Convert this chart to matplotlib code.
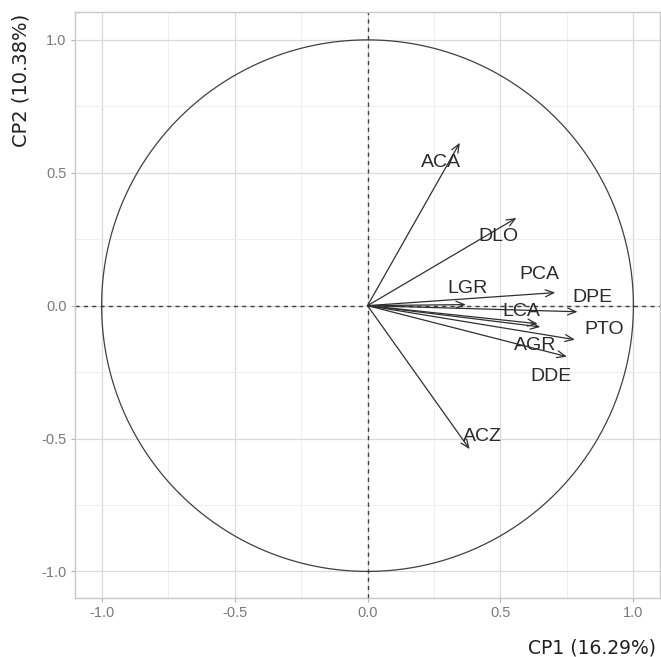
import numpy as np
import matplotlib.pyplot as plt

variables = ['ACA', 'DLO', 'PCA', 'LGR', 'DPE', 'LCA', 'AGR', 'PTO', 'DDE', 'ACZ']
cp1 = [0.347, 0.56, 0.706, 0.37, 0.79, 0.64, 0.65, 0.78, 0.75, 0.384]
cp2 = [0.613, 0.33, 0.049, 0.004, -0.023, -0.068, -0.08, -0.128, -0.192, -0.54]
# label positions (repelled text)
lab_x = [0.275, 0.493, 0.648, 0.377, 0.847, 0.58, 0.629, 0.889, 0.689, 0.433]
lab_y = [0.538, 0.26, 0.117, 0.064, 0.03, -0.023, -0.15, -0.09, -0.267, -0.492]

plt.rcParams['font.family'] = ['Liberation Sans', 'DejaVu Sans']
plt.rcParams['axes.unicode_minus'] = False

fig = plt.figure(figsize=(6.61, 6.57), dpi=100)
ax = fig.add_axes([0.1135, 0.0898, 0.885, 0.892])

ax.set_xlim(-1.1, 1.1)
ax.set_ylim(-1.1, 1.105)

# grid
ax.set_xticks([-1, -0.5, 0, 0.5, 1])
ax.set_yticks([-1, -0.5, 0, 0.5, 1])
ax.set_xticks([-0.75, -0.25, 0.25, 0.75], minor=True)
ax.set_yticks([-0.75, -0.25, 0.25, 0.75], minor=True)
ax.grid(which='major', color='#dadada', linewidth=0.9)
ax.grid(which='minor', color='#ebebeb', linewidth=0.6)
ax.set_axisbelow(True)
ax.tick_params(which='minor', length=0)
ax.tick_params(which='major', length=3, color='#b3b3b3', labelsize=10.5,
               labelcolor='#7a7a7a', pad=3)
for s in ax.spines.values():
    s.set_color('#c8c8c8')
    s.set_linewidth(1.0)

# unit circle
t = np.linspace(0, 2 * np.pi, 400)
ax.plot(np.cos(t), np.sin(t), color='#404040', linewidth=0.9)
ax.axhline(0, color='#404040', linestyle=(0, (3, 3)), linewidth=1.0)
ax.axvline(0, color='#404040', linestyle=(0, (3, 3)), linewidth=1.0)

for v, x, y, lx, ly in zip(variables, cp1, cp2, lab_x, lab_y):
    ax.annotate('', xy=(x, y), xytext=(0, 0),
                arrowprops=dict(arrowstyle='->,head_length=0.6,head_width=0.25',
                                color='#303030', lw=0.9, shrinkA=0, shrinkB=0))
    ax.text(lx, ly, v, ha='center', va='center', fontsize=14, color='#2a2a2a')

# axis titles (ggplot style: x at right, y at top)
fig.text(656 / 661, 1 - 648 / 657, 'CP1 (16.29%)', ha='right', va='center',
         fontsize=13.5, color='#202020', family=['DejaVu Sans'])
fig.text(21 / 661, 1 - 14 / 657, 'CP2 (10.38%)', ha='center', va='top',
         rotation=90, fontsize=14, color='#202020', family=['DejaVu Sans'])

fig.savefig('out.png', dpi=100)
